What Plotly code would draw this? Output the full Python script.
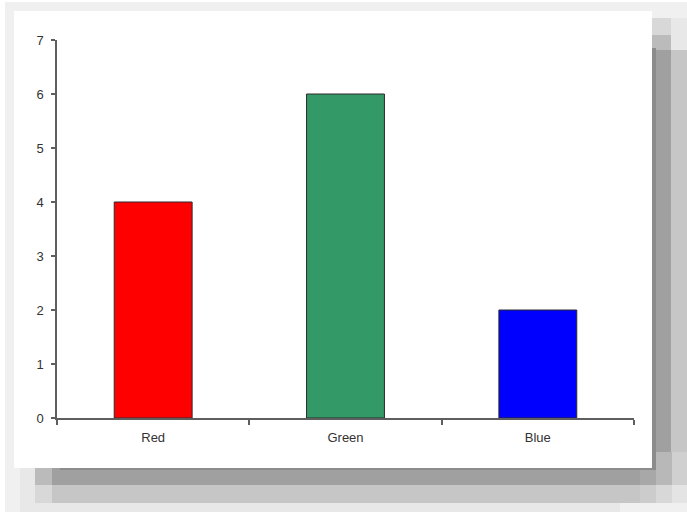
import plotly.graph_objects as go

# Chart data
categories = ["Red", "Green", "Blue"]
values = [4, 6, 2]
bar_colors = ["#ff0000", "#339966", "#0000ff"]
y_ticks = [0, 1, 2, 3, 4, 5, 6, 7]

W, H = 687, 512
M_L, M_R, M_T, M_B = 57, 53, 40, 94
PW, PH = W - M_L - M_R, H - M_T - M_B


def px_rect(x0, y0, x1, y1, color):
    """Rectangle given in page pixels, converted to paper coordinates."""
    return dict(
        type="rect", xref="paper", yref="paper", layer="below",
        x0=(x0 - M_L) / PW, x1=(x1 - M_L) / PW,
        y0=(H - M_B - y1) / PH, y1=(H - M_B - y0) / PH,
        fillcolor=color, line=dict(width=0),
    )


# Soft drop shadow behind the white card, built from nested bands
shapes = [
    px_rect(5, 2, 687, 512, "#f0f0f0"),
    px_rect(20, 18, 687, 512, "#e8e8e8"),
    px_rect(35, 18, 671, 503, "#d8d8d8"),
    px_rect(52, 50, 687, 503, "#c6c6c6"),
    px_rect(35, 35, 671, 485, "#bbbbbb"),
    px_rect(52, 50, 671, 485, "#a0a0a0"),
    # fading bottom-right corner
    px_rect(640, 468, 656, 485, "#a8a8a8"),
    px_rect(656, 452, 672, 485, "#b8b8b8"),
    px_rect(672, 452, 687, 485, "#d0d0d0"),
    px_rect(640, 485, 656, 503, "#cccccc"),
    px_rect(656, 485, 672, 503, "#d8d8d8"),
    px_rect(672, 485, 687, 503, "#e4e4e4"),
    px_rect(620, 503, 687, 512, "#f0f0f0"),
    px_rect(60, 48, 656, 470, "#8c8c8c"),
    px_rect(14, 11, 652, 468, "#ffffff"),
]

fig = go.Figure(
    go.Bar(
        x=categories,
        y=values,
        marker=dict(color=bar_colors, line=dict(color="#2a2a2a", width=1)),
        width=0.405,
    )
)

axis_color = "#5e5e5e"
tick_font = dict(family="Liberation Sans, Arial, sans-serif", size=13, color="#333333")

fig.update_layout(
    width=W, height=H,
    margin=dict(l=M_L, r=M_R, t=M_T, b=M_B),
    paper_bgcolor="#ffffff",
    plot_bgcolor="rgba(0,0,0,0)",
    showlegend=False,
    shapes=shapes,
    xaxis=dict(
        showline=True, linecolor=axis_color, linewidth=1.5,
        ticks="outside", ticklen=5, tickcolor=axis_color, tickwidth=1.5,
        tickson="boundaries", showgrid=False, zeroline=False,
        tickfont=tick_font, ticklabelstandoff=7,
        range=[-0.5, 2.5],
    ),
    yaxis=dict(
        range=[0, 7], tickvals=y_ticks,
        showline=True, linecolor=axis_color, linewidth=1.5,
        ticks="outside", ticklen=4, tickcolor=axis_color, tickwidth=1.5,
        showgrid=False, zeroline=False,
        tickfont=tick_font, ticklabelstandoff=5,
    ),
)

fig.write_html("out.html")
